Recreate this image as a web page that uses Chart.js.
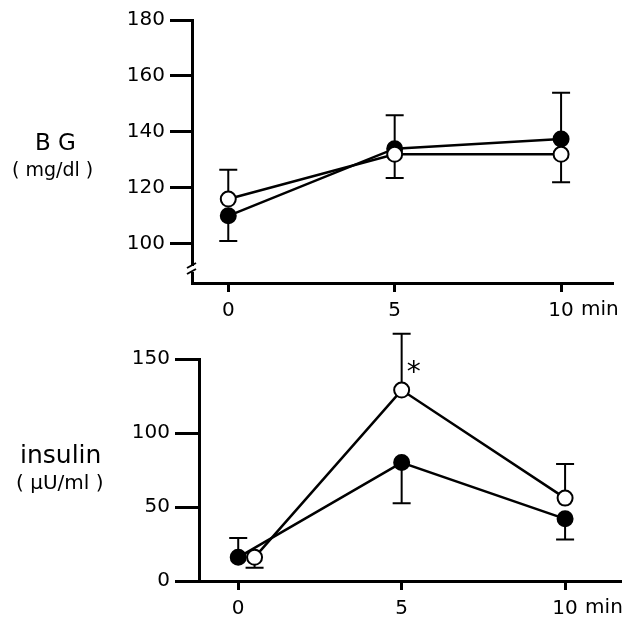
<!DOCTYPE html>
<html>
<head>
<meta charset="utf-8">
<script src="https://cdn.jsdelivr.net/npm/chart.js@4"></script>
<style>
  body { margin: 0; background: #fff; }
  #wrap { position: relative; width: 636px; height: 620px; overflow: hidden; }
  canvas { position: absolute; left: 0; }
  .lbl { position: absolute; color: #000; white-space: pre; font-family: "DejaVu Sans", sans-serif; }
</style>
</head>
<body>
<div id="wrap">
  <canvas id="bgChart" width="636" height="330" style="top:0"></canvas>
  <canvas id="insChart" width="636" height="300" style="top:320px"></canvas>
  <div class="lbl" style="left:35px;top:129px;font-size:23px">B G</div>
  <div class="lbl" style="left:12px;top:158px;font-size:19px">( mg/dl )</div>
  <div class="lbl" style="left:20px;top:440px;font-size:25px">insulin</div>
  <div class="lbl" style="left:16px;top:470px;font-size:20px">( μU/ml )</div>
</div>
<script>
// --- Data ---
const xTicks = [0, 5, 10];

const bgTimes = [0, 5, 10];
const bgTicks = [100, 120, 140, 160, 180];
const bgFilled = [110, 134, 137.5];
const bgFilledErr = [9, 12, 16.5];
const bgFilledDir = [-1, 1, 1];
const bgOpen = [116, 132, 132];
const bgOpenErr = [10.5, 8.5, 10];
const bgOpenDir = [1, -1, -1];

const insFilledTimes = [0, 5, 10];
const insOpenTimes = [0.5, 5, 10];
const insTicks = [0, 50, 100, 150];
const insFilled = [16, 80, 42];
const insFilledErr = [13, 27.5, 14];
const insFilledDir = [1, -1, -1];
const insOpen = [16, 129, 56];
const insOpenErr = [7, 38, 23];
const insOpenDir = [-1, 1, 1];

const tickFont = { family: 'DejaVu Sans', size: 20 };

// --- Helpers ---
function toPoints(xs, ys) {
  return xs.map((x, i) => ({ x, y: ys[i] }));
}

function makeDataset(xs, ys, err, dir, filled) {
  return {
    data: toPoints(xs, ys),
    err, dir,
    borderColor: '#000',
    borderWidth: 2.5,
    pointRadius: 7.5,
    pointHoverRadius: 7.5,
    pointBorderWidth: 2,
    pointBorderColor: '#000',
    pointBackgroundColor: filled ? '#000' : '#fff',
    tension: 0
  };
}

// error bars go one way only, drawn under the circles
const errorBars = {
  id: 'errorBars',
  beforeDatasetsDraw(chart) {
    const ctx = chart.ctx;
    const y = chart.scales.y;
    ctx.save();
    ctx.strokeStyle = '#000';
    ctx.lineWidth = 2;
    chart.data.datasets.forEach((ds, i) => {
      const meta = chart.getDatasetMeta(i);
      ds.data.forEach((p, j) => {
        const px = meta.data[j].x;
        const y0 = y.getPixelForValue(p.y);
        const y1 = y.getPixelForValue(p.y + ds.dir[j] * ds.err[j]);
        ctx.beginPath();
        ctx.moveTo(px, y0);
        ctx.lineTo(px, y1);
        ctx.moveTo(px - 9, y1);
        ctx.lineTo(px + 9, y1);
        ctx.stroke();
      });
    });
    ctx.restore();
  }
};

const extras = {
  id: 'extras',
  afterDraw(chart, args, opts) {
    const ctx = chart.ctx;
    const xs = chart.scales.x;
    const area = chart.chartArea;
    ctx.save();
    ctx.fillStyle = '#000';
    ctx.font = '20px "DejaVu Sans"';
    ctx.textBaseline = 'top';
    ctx.fillText('min', xs.getPixelForValue(10) + 20, area.bottom + opts.minOffset);

    if (opts.axisBreak) {
      const bx = area.left, by = area.bottom - 14;
      ctx.fillStyle = '#fff';
      ctx.fillRect(bx - 3, by - 3, 6, 6);
      ctx.strokeStyle = '#000';
      ctx.lineWidth = 2;
      ctx.beginPath();
      ctx.moveTo(bx - 5, by - 1); ctx.lineTo(bx + 4, by - 6);
      ctx.moveTo(bx - 5, by + 5); ctx.lineTo(bx + 4, by);
      ctx.stroke();
    }

    if (opts.star) {
      const meta = chart.getDatasetMeta(opts.star.dataset);
      const pt = meta.data[opts.star.index];
      ctx.fillStyle = '#000';
      ctx.font = '28px "DejaVu Sans"';
      ctx.textBaseline = 'middle';
      ctx.fillText('*', pt.x + 5, pt.y - 16);
    }
    ctx.restore();
  }
};

function makeChart(canvasId, cfg) {
  return new Chart(document.getElementById(canvasId).getContext('2d'), {
    type: 'line',
    data: { datasets: cfg.datasets },
    options: {
      responsive: false,
      animation: false,
      layout: { padding: cfg.padding },
      plugins: {
        legend: { display: false },
        tooltip: { enabled: false },
        extras: cfg.extras
      },
      scales: {
        x: {
          type: 'linear',
          min: cfg.xMin, max: cfg.xMax,
          afterBuildTicks: s => { s.ticks = xTicks.map(v => ({ value: v })); },
          afterFit: s => { s.height = cfg.xHeight; },
          border: { display: true, color: '#000', width: 3 },
          grid: { drawOnChartArea: false, drawTicks: true, tickLength: 9, color: '#000', lineWidth: 3 },
          ticks: { color: '#000', font: tickFont, padding: 7, maxRotation: 0 }
        },
        y: {
          min: cfg.yMin, max: cfg.yMax,
          afterBuildTicks: s => { s.ticks = cfg.yTicks.map(v => ({ value: v })); },
          afterFit: s => { s.width = cfg.yWidth; },
          border: { display: true, color: '#000', width: 3 },
          grid: { drawOnChartArea: false, drawTicks: true, tickLength: cfg.yTickLen, color: '#000', lineWidth: 3 },
          ticks: { color: '#000', font: tickFont, padding: 5 }
        }
      }
    },
    plugins: [errorBars, extras]
  });
}

// --- Blood glucose ---
makeChart('bgChart', {
  datasets: [
    makeDataset(bgTimes, bgOpen, bgOpenErr, bgOpenDir, false),
    makeDataset(bgTimes, bgFilled, bgFilledErr, bgFilledDir, true)
  ],
  padding: { top: 20, right: 24, bottom: 0, left: 0 },
  xMin: -1.09, xMax: 11.53, xHeight: 47,
  yMin: 86, yMax: 180, yTicks: bgTicks, yWidth: 192, yTickLen: 22,
  extras: { minOffset: 17, axisBreak: true }
});

// --- Insulin ---
makeChart('insChart', {
  datasets: [
    makeDataset(insOpenTimes, insOpen, insOpenErr, insOpenDir, false),
    makeDataset(insFilledTimes, insFilled, insFilledErr, insFilledDir, true)
  ],
  padding: { top: 39, right: 16, bottom: 0, left: 0 },
  xMin: -1.2, xMax: 11.68, xHeight: 39,
  yMin: 0, yMax: 150, yTicks: insTicks, yWidth: 199, yTickLen: 24,
  extras: { minOffset: 17, star: { dataset: 0, index: 1 } }
});
</script>
</body>
</html>
